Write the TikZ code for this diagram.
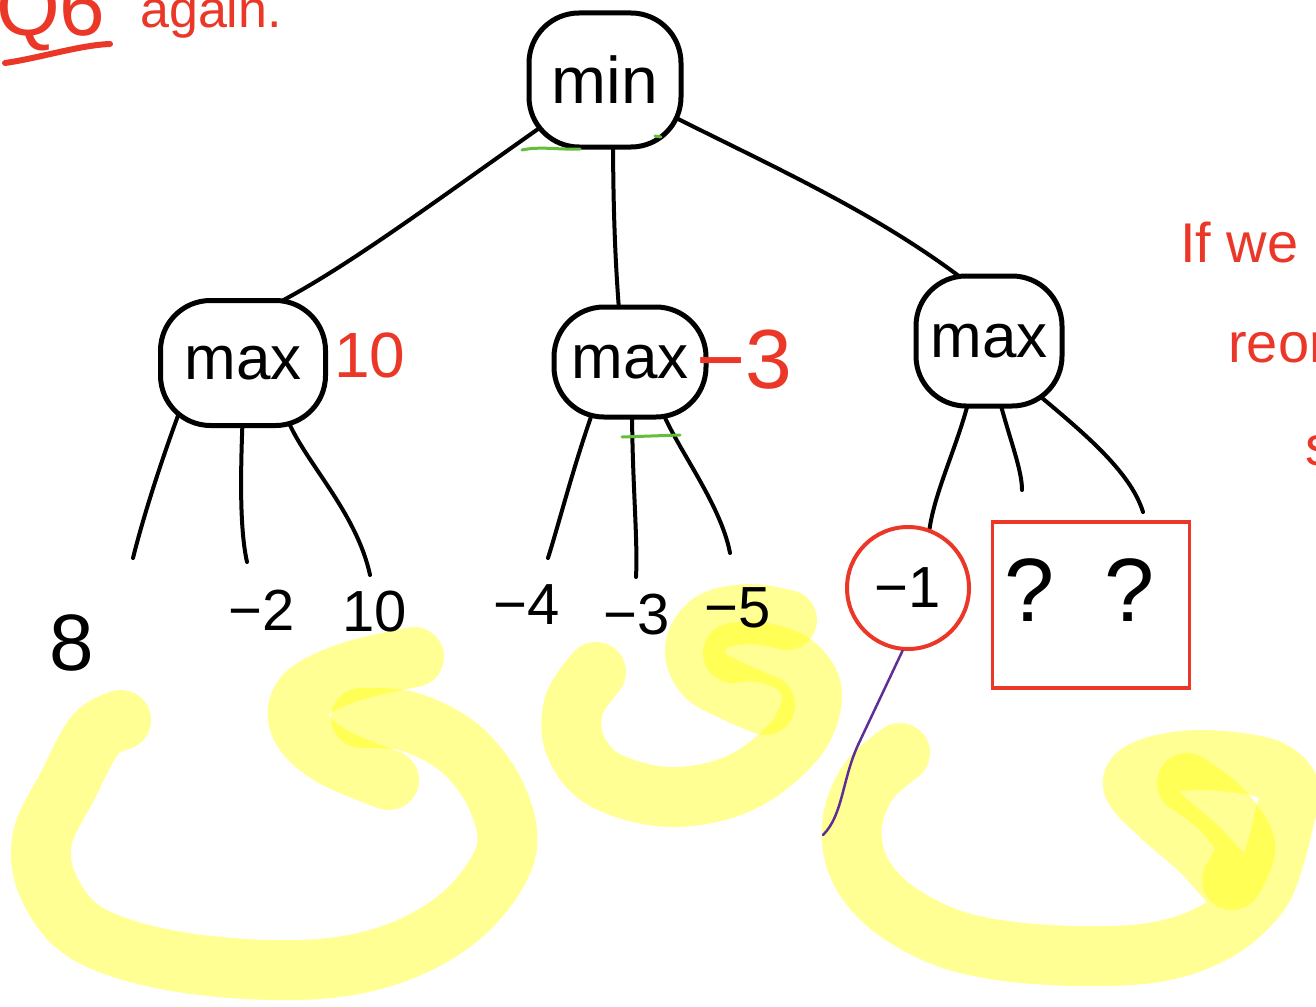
\documentclass[tikz,border=0pt]{standalone}
\usepackage{fontspec}
\setmainfont{Liberation Sans}
\pgfdeclarelayer{under}
\pgfsetlayers{under,main}
\definecolor{inkred}{RGB}{235,55,40}
\definecolor{inkgreen}{RGB}{100,190,60}
\definecolor{inkpurple}{RGB}{95,45,150}
\definecolor{hlyellow}{RGB}{255,255,0}
\begin{document}
\begin{tikzpicture}[x=1pt,y=-1pt,
  blob/.style={draw=black, line width=5pt, fill=white, rounded corners=50pt, inner sep=0pt, font=\fontsize{62}{62}\selectfont},
  conn/.style={draw=black, line width=4pt, line cap=round, line join=round},
  hl/.style={draw=hlyellow, draw opacity=0.42, line width=60pt, line cap=round, line join=round},
  leaf/.style={inner sep=0pt, font=\fontsize{58}{58}\selectfont},
  redtxt/.style={text=inkred, inner sep=0pt},
  grn/.style={draw=inkgreen, line width=3pt, line cap=round},
]
\useasboundingbox (0,0) rectangle (1316,1006);
\clip (0,0) rectangle (1316,1006);

% tree nodes
\node[blob, minimum width=152pt, minimum height=134pt, font=\fontsize{66}{66}\selectfont] (min) at (605,80) {min};
\node[blob, minimum width=165pt, minimum height=125pt] (lmax) at (243,363) {max};
\node[blob, minimum width=152pt, minimum height=110pt] (mmax) at (630,362) {max};
\node[blob, minimum width=146pt, minimum height=130pt] (rmax) at (989,341) {max};

% values beside the max nodes
\node[redtxt, font=\fontsize{64}{64}\selectfont] (v10) at (370,355) {10};
\node[redtxt, anchor=west, font=\fontsize{84}{84}\selectfont] (vm3) at (696,360) {−3};

% leaves
\node[leaf, font=\fontsize{80}{80}\selectfont] (l8) at (72,643) {8};
\node[leaf] (lm2) at (262,610) {−2};
\node[leaf] (l10) at (375,612) {10};
\node[leaf] (lm4) at (527,605) {−4};
\node[leaf] (lm3) at (637,615) {−3};
\node[leaf] (lm5) at (738,608) {−5};
\node[draw=inkred, line width=4pt, circle, minimum size=122pt, inner sep=0pt, font=\fontsize{58}{58}\selectfont] (neg1) at (908,588) {−1};
\node[draw=inkred, line width=3.5pt, minimum width=197pt, minimum height=166pt, inner sep=0pt] (qbox) at (1091,605) {};
\node[inner sep=0pt, font=\fontsize{90}{90}\selectfont] (q1) at (1030,590) {?};
\node[inner sep=0pt, font=\fontsize{90}{90}\selectfont] (q2) at (1130,590) {?};

% free ends of connectors
\coordinate (e1) at (133,558);
\coordinate (e2) at (247,562);
\coordinate (e3) at (370,575);
\coordinate (e4) at (548,558);
\coordinate (e5) at (636,577);
\coordinate (e6) at (730,553);
\coordinate (e8) at (1022,490);
\coordinate (e9) at (1143,512);
\coordinate (pend) at (823,835);

% notes
\node[redtxt, anchor=base west, font=\fontsize{82}{82}\selectfont] (q6) at (-4,36) {Q6};
\node[redtxt, anchor=base west, font=\fontsize{52}{52}\selectfont] (again) at (140,28) {again.};
\node[redtxt, anchor=base west, font=\fontsize{56}{56}\selectfont] (ifwe) at (1180,262) {If we};
\node[redtxt, anchor=base west, font=\fontsize{56}{56}\selectfont] (reor) at (1228,362) {reor};
\node[redtxt, anchor=base west, font=\fontsize{56}{56}\selectfont] (sfrag) at (1305,465) {s};
\draw[inkred, line width=6pt, line cap=round] (5,63) .. controls (40,58) and (80,45) .. (110,44);

\begin{pgfonlayer}{under}
  % highlighter strokes
  \draw[hl] plot[smooth, tension=0.6] coordinates {(121,720) (95,735) (68,785) (42,840) (50,890) (90,935) (180,962) (300,970) (390,955) (462,915) (505,855) (498,800) (462,750) (410,722) (361,718)};
  \draw[hl] plot[smooth, tension=0.6] coordinates {(414,657) (350,672) (305,695) (300,725) (330,755) (389,780)};
  \draw[hl] plot[smooth, tension=0.6] coordinates {(596,672) (574,705) (575,745) (605,780) (670,797) (740,783) (795,740) (812,695) (795,665) (760,652) (733,653)};
  \draw[hl] plot[smooth, tension=0.6] coordinates {(787,620) (750,614) (712,622) (695,648) (705,675) (735,692) (765,705)};
  \draw[hl] plot[smooth, tension=0.6] coordinates {(900,753) (868,782) (852,825) (860,870) (895,910) (960,942) (1050,955) (1150,953) (1215,932) (1258,895) (1275,855) (1285,815) (1290,790) (1265,768) (1200,760) (1150,768) (1133,785) (1160,815) (1200,850) (1230,883)};
  \draw[hl] plot[smooth, tension=0.6] coordinates {(1187,783) (1220,808) (1245,845) (1232,880)};

  % tree connectors
  \draw[conn] (min.center) -- (548,122) .. controls (430,205) and (350,265) .. (278,303) -- (lmax.center);
  \draw[conn] (min.center) -- (613,130) .. controls (613,220) and (616,270) .. (619,310) -- (mmax.center);
  \draw[conn] (min.center) -- (670,115) .. controls (780,170) and (880,215) .. (968,283) -- (rmax.center);

  \draw[conn] (lmax.center) -- (182,405) .. controls (165,450) and (145,510) .. (e1);
  \draw[conn] (lmax.center) -- (243,410) .. controls (240,480) and (240,530) .. (e2);
  \draw[conn] (lmax.center) -- (283,405) .. controls (292,450) and (355,505) .. (e3);

  \draw[conn] (mmax.center) -- (597,400) .. controls (575,460) and (560,520) .. (e4);
  \draw[conn] (mmax.center) -- (632,405) .. controls (632,480) and (638,540) .. (e5);
  \draw[conn] (mmax.center) -- (658,400) .. controls (670,440) and (720,500) .. (e6);

  \draw[conn] (rmax.center) -- (970,395) .. controls (960,440) and (935,490) .. (neg1.70);
  \draw[conn] (rmax.center) -- (1000,402) .. controls (1010,440) and (1022,470) .. (e8);
  \draw[conn] (rmax.center) -- (1035,392) .. controls (1080,430) and (1130,470) .. (e9);
\end{pgfonlayer}

% purple stroke from -1
\draw[inkpurple, line width=2.5pt, line cap=round] (neg1.265) -- (858,745) .. controls (842,780) and (843,815) .. (pend);

% green marks
\draw[grn] (522,150) .. controls (540,146) and (560,150) .. (580,149);
\draw[grn] (655,136) -- (661,137);
\draw[grn] (622,437) -- (680,435);
\end{tikzpicture}
\end{document}
